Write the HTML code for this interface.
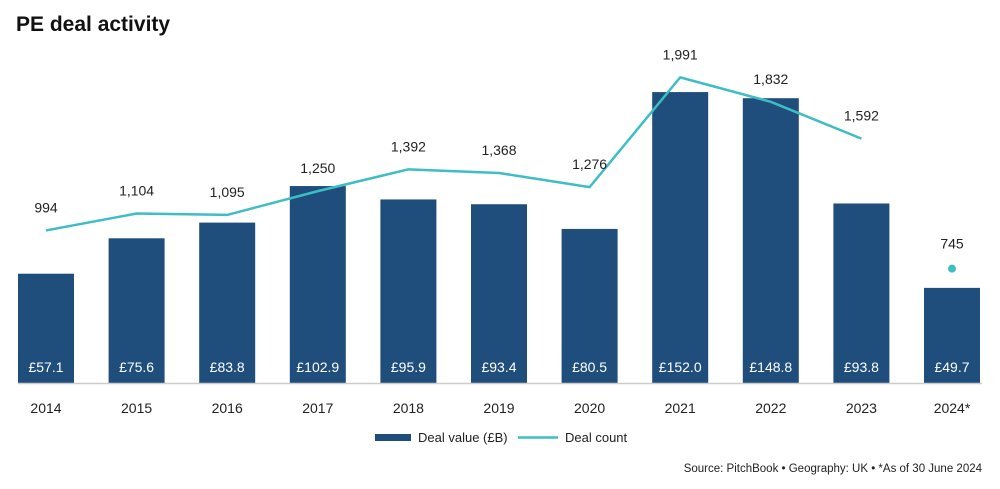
<!DOCTYPE html>
<html><head><meta charset="utf-8"><style>
body{margin:0;background:#fff;font-family:"Liberation Sans",sans-serif;}
svg{display:block}
</style></head><body>
<svg width="1000" height="489">
<rect x="0" y="0" width="1000" height="489" fill="#fff"/>
<text x="16" y="31" font-size="21" font-weight="bold" fill="#111">PE deal activity</text>
<g id="bars"></g>
<line x1="18" y1="383.5" x2="982" y2="383.5" stroke="#ccc" stroke-width="1.5"/>
<g id="line"></g>
<g>
<rect x="375" y="434" width="36" height="7" fill="#1f4e7d"/>
<text x="418" y="442" font-size="13" fill="#222">Deal value (£B)</text>
<line x1="518" y1="437.5" x2="558" y2="437.5" stroke="#3ebdc4" stroke-width="2.5"/>
<text x="565" y="442" font-size="13" fill="#222">Deal count</text>
</g>
<text x="982" y="472" font-size="11.5" fill="#222" text-anchor="end">Source: PitchBook  •  Geography: UK  •  *As of 30 June 2024</text>
</svg>
<script>
const years=["2014","2015","2016","2017","2018","2019","2020","2021","2022","2023","2024*"];
const dealValues=[57.1,75.6,83.8,102.9,95.9,93.4,80.5,152.0,148.8,93.8,49.7];
const valueLabels=["£57.1","£75.6","£83.8","£102.9","£95.9","£93.4","£80.5","£152.0","£148.8","£93.8","£49.7"];
const dealCounts=[994,1104,1095,1250,1392,1368,1276,1991,1832,1592,745];
const countLabels=["994","1,104","1,095","1,250","1,392","1,368","1,276","1,991","1,832","1,592","745"];
const NS="http://www.w3.org/2000/svg";
const base=383;
const xc=i=>46+i*90.6;
const yv=v=>base-v*1.914;
const yc=c=>base-c*0.1535;
const bars=document.getElementById('bars'), lg=document.getElementById('line');
function mk(t,a){const e=document.createElementNS(NS,t);for(const k in a)e.setAttribute(k,a[k]);return e;}
years.forEach((y,i)=>{
  const r=mk('rect',{x:xc(i)-28,y:yv(dealValues[i]),width:56,height:base-yv(dealValues[i]),fill:'#1f4e7d'});
  
  
  bars.appendChild(r);
  const t=mk('text',{x:xc(i),y:372,'font-size':14,fill:'#fff','text-anchor':'middle'});
  t.textContent=valueLabels[i];
  
  
  bars.appendChild(t);
  const yt=mk('text',{x:xc(i),y:413,'font-size':14,fill:'#222','text-anchor':'middle'});
  yt.textContent=y;
  
  
  bars.appendChild(yt);
});
const pts=dealCounts.slice(0,10).map((c,i)=>xc(i)+','+yc(c)).join(' ');
const pl=mk('polyline',{points:pts,fill:'none',stroke:'#3ebdc4','stroke-width':2.5,'stroke-linejoin':'round'});


lg.appendChild(pl);
const dot=mk('circle',{cx:xc(10),cy:yc(dealCounts[10]),r:4,fill:'#3ebdc4'});


lg.appendChild(dot);
dealCounts.forEach((c,i)=>{
  const t=mk('text',{x:xc(i),y:yc(c)-(i==10?20:18),'font-size':14,fill:'#222','text-anchor':'middle'});
  t.textContent=countLabels[i];
  
  
  lg.appendChild(t);
});
</script>
</body></html>
